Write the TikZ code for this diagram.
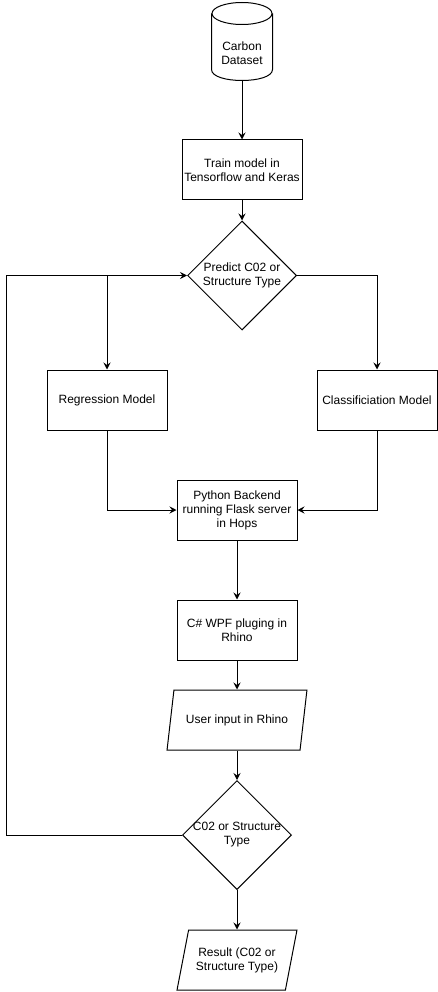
\documentclass[tikz,border=0pt]{standalone}
\usepackage{fontspec}
\setmainfont{Liberation Sans}
\usetikzlibrary{shapes.geometric,arrows.meta}

\begin{document}
\begin{tikzpicture}[x=1pt,y=-1pt,
	font=\fontsize{12}{14}\selectfont,
	line width=1pt,
	>={Stealth[length=7pt,width=7pt,inset=2.5pt]},
	proc/.style={draw,rectangle,minimum width=120pt,minimum height=60pt,align=center,inner sep=2pt},
	db/.style={rectangle,minimum width=60pt,minimum height=54pt,inner sep=0pt,align=center},
	decision/.style={draw,diamond,aspect=1,minimum width=109pt,minimum height=109pt,inner sep=-6pt,align=center},
	io/.style={draw,trapezium,trapezium left angle=71.57,trapezium right angle=108.43,trapezium stretches=true,minimum width=140pt,minimum height=60pt,align=center}]
			\fill[white] (0,0) rectangle (438,992);
			\useasboundingbox (0,0) rectangle (438,992);
			\node[db] (data) at (242,53) {Carbon\\Dataset};
			\draw ([yshift=12pt]data.north) ellipse [x radius=30, y radius=11];
			\draw ([yshift=12pt]data.north west) -- ([yshift=11pt]data.south west)
			.. controls ([yshift=-3.67pt]data.south west) and ([yshift=-3.67pt]data.south east) .. ([yshift=11pt]data.south east)
			-- ([yshift=12pt]data.north east);
			\node[proc] (train) at (242,170) {Train model in\\Tensorflow and Keras};
			\node[decision] (predict) at (242,275.5) {Predict C02 or\\Structure Type};
			\node[proc] (reg) at (107,400) {Regression Model};
			\node[proc] (cls) at (377,400) {Classificiation Model};
			\node[proc] (backend) at (237,510) {Python Backend\\running Flask server\\in Hops};
			\node[proc] (plugin) at (237,630) {C\# WPF pluging in\\Rhino};
			\node[io] (input) at (237,720) {User input in Rhino};
			\node[decision] (check) at (237,835) {C02 or Structure\\Type};
			\node[io, minimum width=120pt] (result) at (237,960) {Result (C02 or\\Structure Type)};
			\draw[->] (data) edge (train)
			(train) edge (predict)
			(backend) edge (plugin)
			(plugin) edge (input)
			(input) edge (check)
			(check) edge (result);
			\draw[->] (predict.east) -| (cls.north);
			\draw[->] (reg.north |- predict.west) -- (reg.north);
			\draw[->] (reg.south) |- (backend.west);
			\draw[->] (cls.south) |- (backend.east);
			\draw[->] (check.west) -- ++(-175.5,0) |- (predict.west);
		\end{tikzpicture}
\end{document}
